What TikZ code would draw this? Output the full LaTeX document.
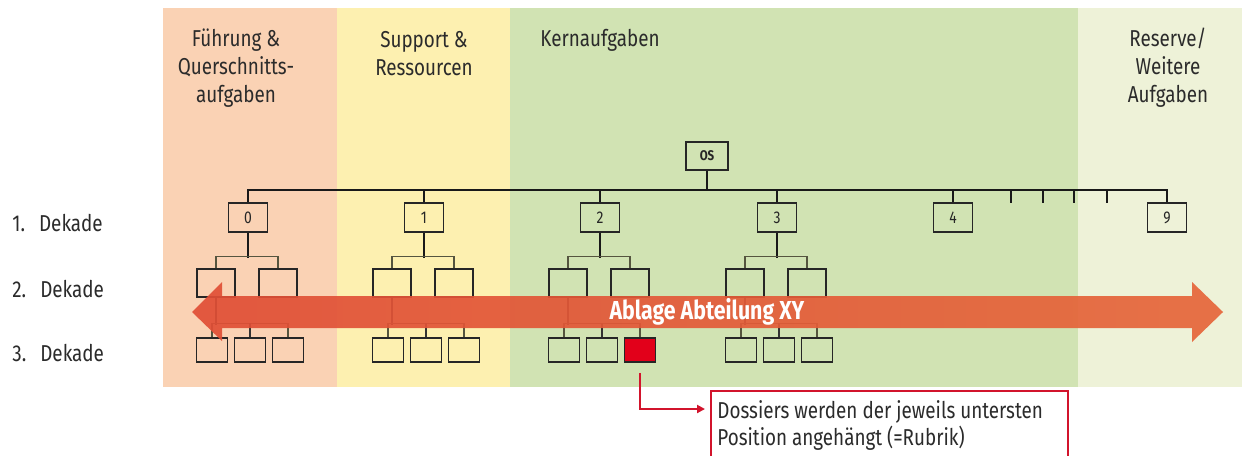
\documentclass[tikz,border=0pt]{standalone}
\usepackage{fontspec}
\setmainfont[FakeStretch=0.82]{Fira Sans}
\usetikzlibrary{arrows.meta,calc}
\definecolor{bandA}{HTML}{FAD2B4}
\definecolor{bandB}{HTML}{FDF0B0}
\definecolor{bandC}{HTML}{D1E3B3}
\definecolor{bandD}{HTML}{EEF2D8}
\definecolor{arrowL}{HTML}{E04E36}
\definecolor{arrowR}{HTML}{E6663A}
\definecolor{boxred}{HTML}{E2001A}
\definecolor{linered}{HTML}{D2142C}
\definecolor{txt}{HTML}{2B2B2B}
\definecolor{thinc}{HTML}{55553F}
\begin{document}
\begin{tikzpicture}[x=0.5pt,y=-0.5pt,
  hdr/.style={align=center,font=\fontsize{11.5}{14}\selectfont,text=txt,inner sep=0pt},
  dek/.style={anchor=west,font=\fontsize{11.5}{14}\selectfont,text=txt,inner sep=0pt},
  boxbase/.style={draw=black!85,line width=0.9pt,inner sep=0pt,font=\fontsize{8.5}{9}\selectfont,text=black!85},
  l1box/.style={boxbase,minimum width=19.5pt,minimum height=14.5pt},
  l2box/.style={boxbase,minimum width=19pt,minimum height=14pt},
  l3box/.style={boxbase,minimum width=15.5pt,minimum height=12pt},
  barline/.style={draw=black!90,line width=1.2pt},
  midline/.style={draw=black!80,line width=0.9pt},
  thinline/.style={draw=thinc,line width=0.6pt},
  arrowtext/.style={font=\fontsize{13}{15}\selectfont\bfseries,text=white,inner sep=0pt},
  callout/.style={anchor=north west,align=left,inner sep=0pt,font=\fontsize{11.5}{13.5}\selectfont,text=txt},
  frame/.style={draw=linered,line width=0.9pt,fill=white},
  redline/.style={draw=linered,line width=1pt,-{Triangle[length=4pt,width=4pt]}}
]
\useasboundingbox (0,0) rectangle (1256,455);
\fill[white] (0,0) rectangle (1256,455);
% bands
\fill[bandA] (163,8) rectangle (337,387);
\fill[bandB] (337,8) rectangle (510,387);
\fill[bandC] (510,8) rectangle (1078,387);
\fill[bandD] (1078,8) rectangle (1242,387);
% headers
\node[hdr] (hA) at (236,68) {Führung \&\\Querschnitts-\\aufgaben};
\node[hdr] (hB) at (424,54) {Support \&\\Ressourcen};
\node[hdr,anchor=west] (hC) at (540,40) {Kernaufgaben};
\node[hdr] (hD) at (1168,68) {Reserve/\\Weitere\\Aufgaben};
% decade labels
\node[dek] (d1) at (12,223) {1.\hspace{7pt}Dekade};
\node[dek] (d2) at (12,289) {2.\hspace{7pt}Dekade};
\node[dek] (d3) at (12,353) {3.\hspace{7pt}Dekade};
% top
\node[l1box,minimum width=21pt,minimum height=14pt,font=\fontsize{7}{8}\selectfont\bfseries] (os) at (707,156) {OS};
\coordinate (bar) at (707,191);
% trees
\foreach \c/\n/\f in {248/0/none,424/1/none,600/2/boxred,777/3/none}{
  \node[l1box] (b\n) at (\c,217.5) {\n};
  \node[l2box] (b\n-a) at (\c-32,283) {};
  \node[l2box] (b\n-b) at (\c+30,283) {};
  \node[l3box] (b\n-x) at (\c-36,350) {};
  \node[l3box] (b\n-y) at (\c+2,350) {};
  \node[l3box,fill=\f] (b\n-z) at (\c+40,350) {};
  \draw[barline] (b\n.south) -- ++(0,25);
  \draw[thinline] (b\n-a.north) -- ++(0,-12) -| (b\n-b.north);
  \draw[midline] (b\n-a.south) -- ++(0,27);
  \draw[thinline] (b\n-x.north) -- ++(0,-14) -| (b\n-z.north);
  \draw[midline] (b\n-y.north) -- ++(0,-14);
}
\node[l1box] (b4) at (953,217.5) {4};
\node[l1box] (b9) at (1167,217.5) {9};
\draw[barline] (b0.north) -- ++(0,-12) -| (b9.north);
\draw[barline] (os.south) -- (bar);
\foreach \n in {1,2,3,4}{
  \draw[barline] (b\n.north) -- (b\n.north |- bar);
}
\foreach \x in {1011,1043,1074,1107}{
  \draw[barline] (\x,191) -- (\x,203);
}
% big arrow
\shade[left color=arrowL,right color=arrowR,opacity=0.92]
  (192,312) -- (222,282) -- (222,296) -- (1192,296) -- (1192,282) -- (1223,312)
  -- (1192,342) -- (1192,328) -- (222,328) -- (222,341) -- cycle;
\node[arrowtext] (abl) at (707,312) {Ablage Abteilung XY};
% callout
\draw[frame] (711,391) rectangle (1068,475);
\node[callout] (cal) at (717,400) {Dossiers werden der jeweils untersten\\Position angehängt (=Rubrik)};
\draw[redline,shorten <=5pt,shorten >=6pt] (b2-z.south) |- ([yshift=-4.5pt]cal.north west);
\end{tikzpicture}
\end{document}
